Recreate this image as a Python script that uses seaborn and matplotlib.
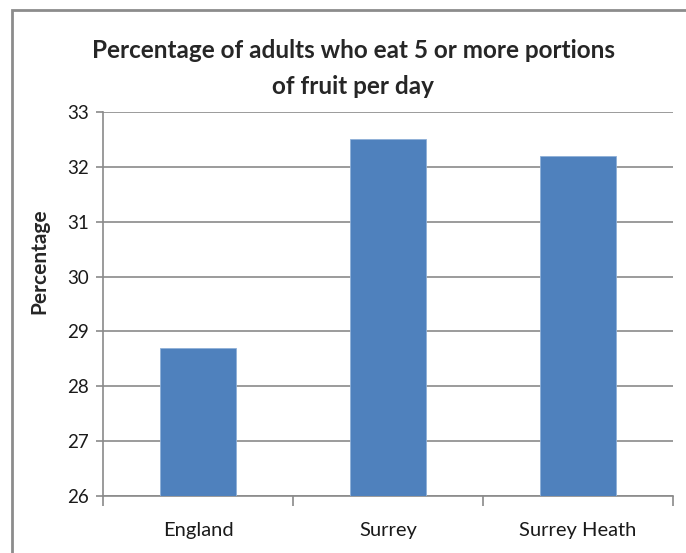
import matplotlib
matplotlib.use("Agg")
import matplotlib.pyplot as plt
import seaborn as sns
import pandas as pd
from matplotlib.patches import Rectangle

areas = ["England", "Surrey", "Surrey Heath"]
percentages = [28.7, 32.5, 32.2]
y_ticks = [26, 27, 28, 29, 30, 31, 32, 33]

sns.set_style("white")
plt.rcParams["font.family"] = ["Lato", "DejaVu Sans"]

W, H = 686, 553
fig = plt.figure(figsize=(W / 100, H / 100), dpi=100)
ax = fig.add_axes([103 / W, 1 - 496 / H, (673 - 103) / W, (496 - 112) / H])

df = pd.DataFrame({"area": areas, "pct": percentages})
sns.barplot(data=df, x="area", y="pct", color="#4F81BD", saturation=1,
            width=0.4, ax=ax, zorder=3, edgecolor="#8FB0D8", linewidth=0.6)

ax.set_ylim(26, 33)
ax.set_xlim(-0.5, 2.5)
ax.set_yticks(y_ticks)
ax.set_yticklabels([str(t) for t in y_ticks], fontsize=13.5, color="#1a1a1a")
ax.yaxis.grid(True, color="#8a8a8a", linewidth=1.2, zorder=0)
ax.tick_params(axis="y", length=5, color="#8a8a8a", width=1.2, pad=5, left=True)

# category labels centred, tick marks at category boundaries
ax.set_xticks(range(len(areas)))
ax.set_xticklabels(areas, fontsize=14.5, color="#1a1a1a")
ax.tick_params(axis="x", which="major", length=0, pad=19)
ax.set_xticks([-0.5, 0.5, 1.5, 2.5], minor=True)
ax.tick_params(axis="x", which="minor", length=7, color="#8a8a8a", width=1.2,
               bottom=True)

for side in ["top", "right"]:
    ax.spines[side].set_visible(False)
for side in ["left", "bottom"]:
    ax.spines[side].set_color("#8a8a8a")
    ax.spines[side].set_linewidth(1.2)

ax.set_xlabel("")
ax.set_ylabel("Percentage", fontsize=15, fontweight="bold")
ax.yaxis.set_label_coords(-54 / 570, (496 - 261) / 384)

fig.text(0.5 + 10 / W, 1 - 50 / H, "Percentage of adults who eat 5 or more portions",
         ha="center", va="center", fontsize=17.5, fontweight="bold")
fig.text(0.5 + 10 / W, 1 - 86 / H, "of fruit per day",
         ha="center", va="center", fontsize=17.5, fontweight="bold")

# chart frame
fig.patches.append(Rectangle((12 / W, -0.1), 1.2, 1 - 10 / H + 0.1,
                             transform=fig.transFigure, fill=False,
                             edgecolor="#8c8c8c", linewidth=2, zorder=0))

fig.savefig("out.png", dpi=100)
